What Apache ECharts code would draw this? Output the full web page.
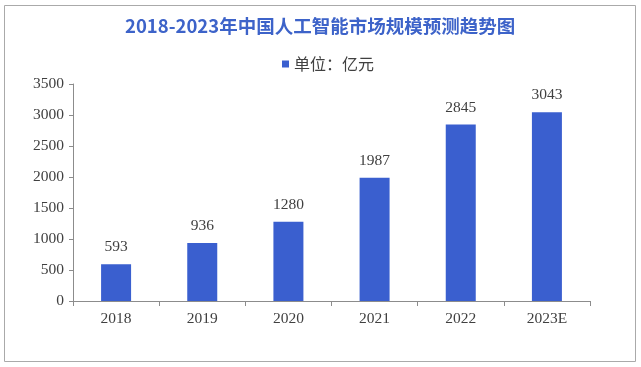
<!DOCTYPE html>
<html><head><meta charset="utf-8">
<script src="https://cdn.jsdelivr.net/npm/echarts@6/dist/echarts.min.js"></script>
<style>html,body{margin:0;padding:0;background:#fff}#c{width:641px;height:367px}</style>
</head><body><div id="c"></div>
<script>
const categories = ['2018','2019','2020','2021','2022','2023E'];
const values = [593, 936, 1280, 1987, 2845, 3043];
const yTicks = [0, 500, 1000, 1500, 2000, 2500, 3000, 3500];
const seriesName = '单位：亿元';
const titleText = '2018-2023年中国人工智能市场规模预测趋势图';

const chart = echarts.init(document.getElementById('c'), null, {renderer:'canvas'});
const serif = '"Liberation Serif","DejaVu Serif",serif';
chart.setOption({
  animation: false,
  graphic: [{type:'rect', shape:{x:4.5,y:5.5,width:631,height:356}, style:{fill:'none', stroke:'#aaaaaa', lineWidth:1}, silent:true}],
  title: {text: titleText, left: 120, top: 10,
    textStyle:{color:'#3d63c9', fontSize:18.5, lineHeight:22, fontWeight:'bold', fontFamily:'"Noto Sans CJK SC",sans-serif'}},
  legend: {data:[seriesName], left: 277, top: 51, itemWidth:7, itemHeight:7, itemGap:3,
    icon:'rect', textStyle:{color:'#404040', fontSize:16, fontFamily:'"Noto Sans CJK SC",sans-serif'}},
  grid: {left:73, right:51, top:84, bottom:66},
  xAxis: {type:'category', data: categories,
    axisLine:{lineStyle:{color:'#8c8c8c'}},
    axisTick:{show:true, length:5, lineStyle:{color:'#8c8c8c'}},
    axisLabel:{color:'#404040', fontSize:15.5, margin:10, fontFamily:serif}},
  yAxis: {type:'value', min: yTicks[0], max: yTicks[yTicks.length-1], interval: 500,
    axisLine:{show:true, lineStyle:{color:'#8c8c8c'}},
    axisTick:{show:true, length:4, lineStyle:{color:'#8c8c8c'}},
    splitLine:{show:false},
    axisLabel:{color:'#404040', fontSize:15.5, margin:9, fontFamily:serif, formatter: v => String(v)}},
  series: [{name: seriesName, type:'bar', data: values, barWidth:30,
    itemStyle:{color:'#3a5fcf'},
    label:{show:true, position:'top', distance:9, color:'#404040', fontSize:15.5, fontFamily:serif}}]
});
</script></body></html>
